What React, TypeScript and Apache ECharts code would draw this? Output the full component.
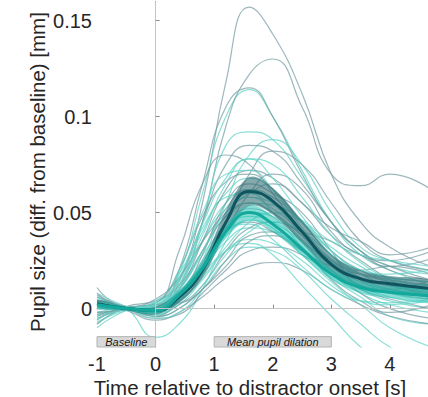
import React, { useEffect, useRef } from "react";
import * as echarts from "echarts";

// time samples (s) shared by all traces
const timePoints = [-1, -0.5, 0, 0.4, 0.8, 1.2, 1.6, 2.0, 2.5, 3.0, 3.5, 4.0, 4.7];

// x tick labels
const xTicks = [-1, 0, 1, 2, 3, 4];
// y tick labels
const yTicks = [0, 0.05, 0.1, 0.15];

// annotation boxes: [start, end, label]
const boxStarts = [-1, 1];
const boxEnds = [0, 3];
const boxLabels = ["Baseline", "Mean pupil dilation"];

// individual subject traces, group A (grey)
const grayS01 = [0.004, 0.0, -0.002, 0.014, 0.055, 0.118, 0.157, 0.143, 0.112, 0.07, 0.045, 0.032, 0.022];
const grayS02 = [0.002, 0.0, 0.001, 0.012, 0.045, 0.095, 0.122, 0.13, 0.105, 0.07, 0.064, 0.07, 0.062];
const grayS03 = [0.0, 0.0, 0.0, 0.02, 0.065, 0.105, 0.115, 0.1, 0.07, 0.045, 0.03, 0.022, 0.015];
const grayS04 = [-0.004, 0.0, 0.002, 0.015, 0.045, 0.075, 0.085, 0.082, 0.065, 0.045, 0.03, 0.02, 0.015];
const grayS05 = [0.011, 0.001, 0.003, 0.03, 0.065, 0.08, 0.075, 0.06, 0.04, 0.025, 0.018, 0.015, 0.012];
const grayS06 = [-0.006, 0.0, -0.004, 0.005, 0.02, 0.042, 0.052, 0.048, 0.035, 0.02, 0.012, 0.008, 0.005];
const grayS07 = [0.008, 0.001, 0.002, 0.01, 0.03, 0.052, 0.062, 0.058, 0.045, 0.03, 0.02, 0.014, 0.01];
const grayS08 = [-0.002, -0.001, 0.0, 0.004, 0.018, 0.04, 0.06, 0.07, 0.062, 0.04, 0.028, 0.025, 0.03];
const grayS09 = [0.006, 0.0, -0.005, -0.003, 0.008, 0.02, 0.03, 0.032, 0.028, 0.018, 0.01, 0.005, 0.0];
const grayS10 = [-0.008, 0.001, 0.004, 0.012, 0.03, 0.048, 0.055, 0.05, 0.038, 0.025, 0.02, 0.022, 0.018];
const grayS11 = [0.003, -0.001, -0.006, -0.002, 0.006, 0.016, 0.022, 0.024, 0.02, 0.01, 0.002, -0.004, -0.008];
const grayS12 = [0.0, 0.0, 0.003, 0.02, 0.048, 0.066, 0.07, 0.062, 0.045, 0.028, 0.018, 0.012, 0.008];
const grayS13 = [0.002, 0.0, -0.002, 0.006, 0.02, 0.045, 0.07, 0.082, 0.075, 0.055, 0.035, 0.025, 0.02];
const grayS14 = [-0.003, 0.0, 0.001, 0.008, 0.025, 0.04, 0.045, 0.04, 0.03, 0.022, 0.018, 0.016, 0.014];
const grayS15 = [0.004, 0.0, -0.003, 0.002, 0.012, 0.03, 0.042, 0.045, 0.04, 0.035, 0.025, 0.015, 0.005];
const grayS16 = [0.001, 0.0, 0.0, 0.01, 0.035, 0.062, 0.072, 0.068, 0.055, 0.042, 0.035, 0.028, 0.032];
const grayS17 = [-0.005, 0.0, 0.002, 0.003, 0.01, 0.025, 0.038, 0.04, 0.032, 0.015, 0.004, -0.002, 0.002];
const grayS18 = [0.007, 0.001, -0.001, 0.006, 0.028, 0.055, 0.065, 0.06, 0.05, 0.03, 0.012, 0.01, 0.015];
const grayS19 = [-0.002, 0.0, 0.005, 0.016, 0.035, 0.05, 0.06, 0.065, 0.055, 0.038, 0.028, 0.022, 0.026];
const grayS20 = [0.002, 0.0, -0.004, 0.0, 0.01, 0.022, 0.035, 0.038, 0.03, 0.02, 0.008, 0.0, -0.005];

// individual subject traces, group B (turquoise)
const tealS01 = [0.0, 0.0, 0.001, 0.018, 0.06, 0.1, 0.114, 0.1, 0.072, 0.045, 0.028, 0.02, 0.012];
const tealS02 = [-0.004, 0.0, -0.002, 0.01, 0.045, 0.085, 0.092, 0.088, 0.068, 0.045, 0.03, 0.022, 0.018];
const tealS03 = [0.003, 0.0, 0.0, 0.005, 0.025, 0.055, 0.08, 0.088, 0.075, 0.05, 0.032, 0.025, 0.02];
const tealS04 = [0.006, 0.0, -0.003, 0.004, 0.022, 0.045, 0.06, 0.058, 0.045, 0.028, 0.015, 0.008, 0.005];
const tealS05 = [-0.008, 0.0, 0.002, 0.012, 0.035, 0.055, 0.062, 0.055, 0.038, 0.022, 0.012, 0.006, 0.003];
const tealS06 = [0.004, 0.0, -0.015, -0.008, 0.01, 0.035, 0.05, 0.048, 0.035, 0.02, 0.01, 0.004, 0.0];
const tealS07 = [0.002, 0.0, 0.003, 0.015, 0.04, 0.058, 0.06, 0.05, 0.032, 0.018, 0.008, 0.002, -0.002];
const tealS08 = [-0.006, 0.0, -0.001, 0.006, 0.02, 0.035, 0.042, 0.04, 0.03, 0.016, 0.006, -0.004, -0.008];
const tealS09 = [0.001, 0.0, 0.001, 0.01, 0.03, 0.048, 0.055, 0.05, 0.036, 0.022, 0.014, 0.01, 0.008];
const tealS10 = [0.005, 0.0, -0.002, 0.002, 0.015, 0.03, 0.036, 0.034, 0.025, 0.012, 0.002, -0.01, -0.02];
const tealS11 = [-0.003, 0.0, 0.004, 0.018, 0.042, 0.06, 0.068, 0.062, 0.045, 0.028, 0.016, 0.01, 0.006];
const tealS12 = [0.002, 0.0, -0.005, -0.002, 0.01, 0.025, 0.032, 0.03, 0.02, 0.005, -0.008, -0.02, -0.028];
const tealS13 = [0.0, 0.0, 0.0, 0.012, 0.035, 0.052, 0.058, 0.052, 0.04, 0.026, 0.018, 0.014, 0.01];
const tealS14 = [-0.01, -0.001, 0.002, 0.01, 0.028, 0.042, 0.048, 0.045, 0.035, 0.024, 0.016, 0.012, 0.009];
const tealS15 = [0.008, 0.001, -0.004, 0.0, 0.012, 0.028, 0.04, 0.045, 0.04, 0.028, 0.018, 0.012, 0.01];
const tealS16 = [0.003, 0.0, 0.002, 0.02, 0.05, 0.07, 0.072, 0.062, 0.042, 0.025, 0.015, 0.012, 0.01];
const tealS17 = [-0.002, 0.0, -0.001, 0.005, 0.018, 0.03, 0.034, 0.028, 0.012, -0.004, -0.02, -0.03, -0.035];
const tealS18 = [0.004, 0.0, 0.001, 0.008, 0.025, 0.045, 0.055, 0.054, 0.045, 0.03, 0.02, 0.018, 0.02];
const tealS19 = [-0.005, 0.0, 0.003, 0.014, 0.038, 0.065, 0.078, 0.075, 0.058, 0.038, 0.024, 0.016, 0.012];
const tealS20 = [0.001, 0.0, -0.003, 0.003, 0.016, 0.032, 0.045, 0.05, 0.045, 0.032, 0.022, 0.015, 0.012];
const tealS21 = [0.006, 0.001, 0.0, 0.01, 0.03, 0.05, 0.058, 0.055, 0.046, 0.035, 0.028, 0.025, 0.022];
const tealS22 = [-0.007, -0.001, 0.001, 0.008, 0.022, 0.038, 0.046, 0.042, 0.028, 0.014, 0.004, 0.002, 0.004];
const tealS23 = [0.002, 0.0, -0.002, 0.006, 0.024, 0.04, 0.044, 0.036, 0.022, 0.01, 0.004, 0.003, 0.005];
const tealS24 = [0.0, 0.0, 0.002, 0.016, 0.044, 0.068, 0.078, 0.068, 0.048, 0.03, 0.02, 0.016, 0.014];

// group means and their error half-widths
const grayMean = [0.0026, 0.0, -0.001, 0.006, 0.02, 0.045, 0.061, 0.056, 0.04, 0.023, 0.0155, 0.013, 0.0105];
const grayErr = [0.002, 0.001, 0.002, 0.003, 0.004, 0.006, 0.0075, 0.007, 0.006, 0.005, 0.0045, 0.004, 0.004];
const tealMean = [0.002, 0.0, -0.001, 0.007, 0.021, 0.04, 0.05, 0.044, 0.031, 0.018, 0.011, 0.0085, 0.0068];
const tealErr = [0.0015, 0.001, 0.0015, 0.0025, 0.003, 0.0035, 0.004, 0.004, 0.0035, 0.003, 0.003, 0.003, 0.003];

const graySubjects = [grayS01, grayS02, grayS03, grayS04, grayS05, grayS06, grayS07, grayS08, grayS09, grayS10,
  grayS11, grayS12, grayS13, grayS14, grayS15, grayS16, grayS17, grayS18, grayS19, grayS20];
const tealSubjects = [tealS01, tealS02, tealS03, tealS04, tealS05, tealS06, tealS07, tealS08, tealS09, tealS10,
  tealS11, tealS12, tealS13, tealS14, tealS15, tealS16, tealS17, tealS18, tealS19, tealS20,
  tealS21, tealS22, tealS23, tealS24];

const FONT = "'Liberation Sans', Arial, Helvetica, sans-serif";
const X_MIN = -1;
const X_MAX = 4.65;
const Y_MIN = -0.02;
const Y_MAX = 0.16;
const BOX_TOP = -0.0146;

const toPairs = (vals: number[]) => timePoints.map((t, i) => [t, vals[i]]);

export default function App() {
  const ref = useRef<HTMLDivElement>(null);

  useEffect(() => {
    if (!ref.current) return;
    const chart = echarts.init(ref.current, null, { renderer: "svg" });

    const series: any[] = [];

    // reference lines (x = 0 and y = 0)
    series.push({
      type: "line",
      z: 1,
      data: [[0, 0]],
      showSymbol: false,
      lineStyle: { opacity: 0 },
      silent: true,
      markLine: {
        silent: true,
        symbol: ["none", "none"],
        label: { show: false },
        lineStyle: { color: "#c4c4c4", width: 1, type: "solid" },
        data: [
          [{ coord: [0, Y_MIN] }, { coord: [0, Y_MAX] }],
          [{ coord: [0, 0] }, { coord: [X_MAX, 0] }],
        ],
      },
    });

    const n = Math.max(graySubjects.length, tealSubjects.length);
    for (let i = 0; i < n; i++) {
      if (i < graySubjects.length) {
        series.push({
          type: "line",
          z: 2,
          data: toPairs(graySubjects[i]),
          smooth: 0.5,
          showSymbol: false,
          silent: true,
          lineStyle: { color: "rgba(118,156,163,0.72)", width: 1.2 },
        });
      }
      if (i < tealSubjects.length) {
        series.push({
          type: "line",
          z: 2,
          data: toPairs(tealSubjects[i]),
          smooth: 0.5,
          showSymbol: false,
          silent: true,
          lineStyle: { color: "rgba(100,212,200,0.75)", width: 1.2 },
        });
      }
    }

    const band = (mean: number[], err: number[], color: string) => {
      series.push({
        type: "custom",
        z: 3,
        silent: true,
        clip: true,
        data: [0],
        renderItem: (_params: any, api: any) => {
          const up = timePoints.map((t, i) => api.coord([t, mean[i] + err[i]]));
          const lo = timePoints.map((t, i) => api.coord([t, mean[i] - err[i]])).reverse();
          return {
            type: "polygon",
            shape: { points: up.concat(lo), smooth: 0.35 },
            style: { fill: color, stroke: "none" },
          };
        },
      });
    };

    band(grayMean, grayErr, "rgba(45,105,112,0.58)");
    series.push({
      type: "line",
      z: 4,
      data: toPairs(grayMean),
      smooth: 0.5,
      showSymbol: false,
      silent: true,
      lineStyle: { color: "#0e5560", width: 3 },
    });
    band(tealMean, tealErr, "rgba(40,195,180,0.55)");
    series.push({
      type: "line",
      z: 4,
      data: toPairs(tealMean),
      smooth: 0.5,
      showSymbol: false,
      silent: true,
      lineStyle: { color: "#12a99c", width: 3 },
    });

    // annotation boxes
    series.push({
      type: "custom",
      z: 10,
      silent: true,
      data: boxStarts.map((s, i) => [s, boxEnds[i], i]),
      renderItem: (_params: any, api: any) => {
        const i = api.value(2);
        const p0 = api.coord([api.value(0), BOX_TOP]);
        const p1 = api.coord([api.value(1), Y_MIN]);
        return {
          type: "group",
          children: [
            {
              type: "rect",
              shape: { x: p0[0], y: p0[1], width: p1[0] - p0[0], height: p1[1] - p0[1] },
              style: { fill: "#d9d9d9", stroke: "#b3b3b3", lineWidth: 1 },
            },
            {
              type: "text",
              style: {
                text: boxLabels[i],
                x: (p0[0] + p1[0]) / 2,
                y: (p0[1] + p1[1]) / 2 + 0.5,
                align: "center",
                verticalAlign: "middle",
                fontFamily: FONT,
                fontStyle: "italic",
                fontSize: 11,
                fill: "#1a1a1a",
              },
            },
          ],
        };
      },
    });

    chart.setOption({
      animation: false,
      backgroundColor: "#ffffff",
      grid: { left: 97, right: 0, top: 1.4, bottom: 50, containLabel: false },
      xAxis: {
        type: "value",
        min: X_MIN,
        max: X_MAX,
        interval: 1,
        axisLine: { show: true, lineStyle: { color: "#8a8a8a", width: 1 } },
        axisTick: { show: true, inside: true, length: 4, customValues: xTicks, lineStyle: { color: "#8a8a8a" } },
        axisLabel: {
          customValues: xTicks,
          fontFamily: FONT,
          fontSize: 20,
          color: "#262626",
          margin: 7,
        },
        splitLine: { show: false },
      },
      yAxis: {
        type: "value",
        min: Y_MIN,
        max: Y_MAX,
        axisLine: { show: true, lineStyle: { color: "#8a8a8a", width: 1 } },
        axisTick: { show: true, inside: true, length: 4, customValues: yTicks, lineStyle: { color: "#8a8a8a" } },
        axisLabel: {
          customValues: yTicks,
          fontFamily: FONT,
          fontSize: 20,
          color: "#262626",
          margin: 5,
        },
        splitLine: { show: false },
      },
      graphic: [
        {
          type: "text",
          x: 250,
          y: 387,
          style: {
            text: "Time relative to distractor onset [s]",
            fontFamily: FONT,
            fontSize: 20.5,
            fill: "#262626",
            textAlign: "center",
            textVerticalAlign: "middle",
          },
        },
        {
          type: "text",
          x: 37.5,
          y: 172,
          rotation: Math.PI / 2,
          style: {
            text: "Pupil size (diff. from baseline) [mm]",
            fontFamily: FONT,
            fontSize: 20.5,
            fill: "#262626",
            textAlign: "center",
            textVerticalAlign: "middle",
          },
        },
      ],
      series,
    });

    return () => chart.dispose();
  }, []);

  return (
    <div
      ref={ref}
      style={{ position: "fixed", left: 0, top: 0, width: 428, height: 397, background: "#fff" }}
    />
  );
}
